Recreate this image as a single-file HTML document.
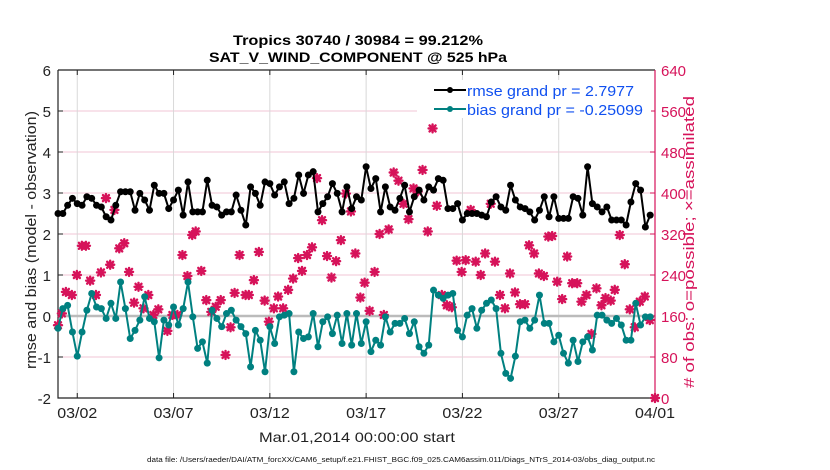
<!DOCTYPE html>
<html><head><meta charset="utf-8"><style>
html,body{margin:0;padding:0;background:#fff;}
svg{display:block;font-family:"Liberation Sans",sans-serif;}
</style></head><body>
<svg id="chart" width="830" height="470" viewBox="0 0 830 470">
<text x="358" y="45" text-anchor="middle" font-size="14" font-weight="bold" textLength="250" lengthAdjust="spacingAndGlyphs">Tropics 30740 / 30984 = 99.212%</text>
<text x="358" y="62" text-anchor="middle" font-size="14" font-weight="bold" textLength="298" lengthAdjust="spacingAndGlyphs">SAT_V_WIND_COMPONENT @ 525 hPa</text>
<g id="grid"></g>
<g id="axes"></g>
<g id="marks"></g>
<text transform="translate(36,240) rotate(-90)" text-anchor="middle" font-size="15" fill="#222" textLength="258" lengthAdjust="spacingAndGlyphs">rmse and bias (model - observation)</text>
<text transform="translate(694,242) rotate(-90)" text-anchor="middle" font-size="15" fill="#d6135a" textLength="292" lengthAdjust="spacingAndGlyphs"># of obs: o=possible; ×=assimilated</text>
<text x="357" y="442" text-anchor="middle" font-size="14" fill="#222" textLength="196" lengthAdjust="spacingAndGlyphs">Mar.01,2014 00:00:00 start</text>
<text x="401" y="462" text-anchor="middle" font-size="7" fill="#111" textLength="508" lengthAdjust="spacingAndGlyphs">data file: /Users/raeder/DAI/ATM_forcXX/CAM6_setup/f.e21.FHIST_BGC.f09_025.CAM6assim.011/Diags_NTrS_2014-03/obs_diag_output.nc</text>
<g>
<rect x="417" y="80" width="234" height="38" fill="#fff"/>
<g>
<line x1="434" y1="90" x2="466" y2="90" stroke="#000" stroke-width="2"/><circle cx="450" cy="90" r="3" fill="#000"/>
<text x="467" y="96" font-size="15" fill="#1050f0" textLength="167" lengthAdjust="spacingAndGlyphs">rmse grand pr = 2.7977</text></g>
<g>
<line x1="434" y1="109" x2="466" y2="109" stroke="#008080" stroke-width="2"/><circle cx="450" cy="109" r="3" fill="#008080"/>
<text x="467" y="115" font-size="15" fill="#1050f0" textLength="176" lengthAdjust="spacingAndGlyphs">bias grand pr = -0.25099</text></g>
</g>
</svg>
<script>
const rmse=[2.50,2.50,2.70,2.87,2.74,2.70,2.91,2.87,2.70,2.66,2.42,2.34,2.70,3.03,3.03,3.03,2.58,2.99,2.83,2.58,3.19,2.99,2.99,2.62,2.83,3.07,2.46,3.27,2.54,2.54,2.54,3.31,2.70,2.66,2.46,2.54,2.54,2.95,2.58,2.22,3.15,2.99,2.70,3.27,3.23,2.95,3.15,3.27,2.74,2.87,3.44,2.99,3.44,3.52,2.54,2.74,2.91,3.23,2.99,2.54,3.15,
2.62,2.91,2.83,3.64,3.11,3.35,2.54,3.15,2.66,2.58,2.87,3.19,2.54,2.91,3.07,2.83,3.15,3.07,3.35,3.31,2.62,2.62,2.74,2.34,2.50,2.50,2.50,2.46,2.42,2.78,2.91,2.66,2.58,3.19,2.83,2.66,2.62,2.54,2.34,2.58,2.91,2.42,2.91,2.38,2.38,2.38,2.91,2.87,2.46,3.64,2.74,2.66,2.54,2.66,2.34,2.34,2.34,2.22,2.78,3.23,3.07,2.17,2.46];
const bias=[-0.30,0.18,0.26,-0.39,-0.98,-0.39,0.14,0.55,0.22,0.18,-0.06,0.31,-0.06,0.83,0.18,-0.55,-0.35,-0.10,0.47,-0.06,-0.14,-1.02,-0.10,-0.22,0.22,-0.22,0.18,0.83,-0.02,-0.79,-0.63,-1.15,0.14,-0.06,-0.26,0.06,0.14,-0.10,-0.26,-0.43,-1.24,-0.35,-0.59,-1.36,-0.26,-0.67,-0.02,0.02,0.06,-1.36,-0.39,-0.55,-0.51,0.06,-0.75,-0.14,-0.02,-0.43,0.02,-0.67,0.06,
-0.71,0.06,-0.67,-0.14,-0.87,-0.59,-0.71,-0.02,-0.39,-0.18,-0.18,-0.06,-0.43,-0.14,-0.75,-0.91,-0.71,0.63,0.51,0.43,0.51,0.55,-0.35,-0.51,0.02,0.18,-0.30,0.14,0.31,0.39,0.18,-0.91,-1.40,-1.52,-0.98,-0.14,-0.10,-0.30,-0.10,0.51,-0.18,-0.18,-0.63,-0.47,-0.91,-1.15,-0.59,-1.11,-0.63,-0.51,-0.83,0.02,0.02,-0.10,-0.18,-0.06,-0.22,-0.59,-0.59,0.31,-0.22,-0.02,-0.02];
const countDays=[0,0.2,0.41,0.72,0.98,1.24,1.45,1.67,1.97,2.23,2.49,2.71,2.93,3.18,3.44,3.69,3.95,4.18,4.44,4.69,4.95,5.21,5.68,5.94,6.2,6.46,6.72,6.97,7.15,7.44,7.7,7.96,8.19,8.45,8.7,8.96,9.17,9.43,9.74,9.91,10.17,10.43,10.73,10.95,11.21,11.43,11.69,11.95,12.21,12.47,12.67,12.93,13.19,13.45,13.71,13.97,14.2,14.44,14.69,14.95,15.21,15.44,15.7,15.92,16.18,16.44,16.7,16.92,17.17,17.43,17.68,17.94,18.2,18.46,18.68,18.93,19.2,19.45,19.67,19.93,20.19,20.45,20.7,20.96,21.17,21.43,21.69,21.95,22.18,22.47,22.69,22.95,23.21,23.47,23.73,23.99,24.25,24.46,24.72,24.97,25.23,25.46,25.66,25.92,26.18,26.44,26.7,26.96,27.18,27.44,27.7,27.96,28.22,28.43,28.7,28.91,29.17,29.43,29.69,29.95,30.21,30.47,30.73,31];
const counts=[142,165,207,201,240,297,297,229,201,245,390,260,367,292,302,246,186,217,175,201,162,173,131,162,162,279,238,318,325,248,191,168,178,191,84,138,205,279,201,201,230,285,190,149,175,198,175,211,233,273,248,279,294,429,347,277,235,267,308,399,364,282,196,225,170,246,320,162,329,440,424,379,349,409,403,445,325,526,375,201,181,177,268,246,269,367,266,240,282,379,266,201,175,243,206,183,183,298,282,243,238,315,316,227,193,276,224,224,188,201,125,214,181,195,190,211,318,261,173,138,188,198,152,0];
const xTickDays=[1,6,11,16,21,26,31];
const xTickLabels=["03/02","03/07","03/12","03/17","03/22","03/27","04/01"];
const yTicks=[-2,-1,0,1,2,3,4,5,6];
const y2Ticks=[0,80,160,240,320,400,480,560,640];
const stepDays=0.25;

const L=58,R=655,T=70,B=398;
const X=d=>L+(d/31)*(R-L);
const Y=v=>B-((v+2)/8)*(B-T);
const Y2=c=>B-(c/640)*(B-T);
const NS='http://www.w3.org/2000/svg';
function mk(tag,parent,attrs){const e=document.createElementNS(NS,tag);for(const k in attrs)e.setAttribute(k,attrs[k]);parent.appendChild(e);return e;}
const grid=document.getElementById('grid'),axes=document.getElementById('axes'),marks=document.getElementById('marks');

yTicks.forEach(v=>{
  if(v!==-2&&v!==6){const g=mk('line',grid,{x1:L,x2:R,y1:Y(v),y2:Y(v),stroke:'#f2c6d6','stroke-width':1});
  
  }
  const t=mk('text',axes,{x:L-7,y:Y(v)+6,'text-anchor':'end','font-size':15,fill:'#222'});t.textContent=v;
  
  
  mk('line',axes,{x1:L,x2:L+5,y1:Y(v),y2:Y(v),stroke:'#222'});
});
y2Ticks.forEach(c=>{
  const t=mk('text',axes,{x:R+6,y:Y2(c)+6,'font-size':15,fill:'#d6135a'});t.textContent=c;
  
  
  mk('line',axes,{x1:R-5,x2:R,y1:Y2(c),y2:Y2(c),stroke:'#d6135a'});
});
xTickDays.forEach((d,i)=>{
  if(d<31){const g=mk('line',grid,{x1:X(d),x2:X(d),y1:T,y2:B,stroke:'#d8d8d8','stroke-width':1});
  
  }
  mk('line',axes,{x1:X(d),x2:X(d),y1:B,y2:B-5,stroke:'#222'});
  mk('line',axes,{x1:X(d),x2:X(d),y1:T,y2:T+5,stroke:'#222'});
  const t=mk('text',axes,{x:X(d),y:418,'text-anchor':'middle','font-size':15,fill:'#222',textLength:40,lengthAdjust:'spacingAndGlyphs'});t.textContent=xTickLabels[i];
  
  
});
mk('line',grid,{x1:L,x2:R,y1:Y(0),y2:Y(0),stroke:'#bbb','stroke-width':2.5});
mk('path',axes,{d:`M${L},${T}H${R}M${L},${T}V${B}H${R}`,stroke:'#222','stroke-width':1.2,fill:'none'});
mk('line',axes,{x1:R,x2:R,y1:T,y2:B,stroke:'#d6135a','stroke-width':1.2});

counts.forEach((c,i)=>{
  const cx=X(countDays[i]),cy=Y2(c);
  const g=mk('g',marks,{stroke:'#d6135a','stroke-width':2.4,'stroke-linecap':'round'});
  
  
  mk('line',g,{x1:cx-4,x2:cx+4,y1:cy,y2:cy});
  mk('line',g,{x1:cx,x2:cx,y1:cy-4,y2:cy+4});
  mk('line',g,{x1:cx-3,x2:cx+3,y1:cy-3,y2:cy+3});
  mk('line',g,{x1:cx-3,x2:cx+3,y1:cy+3,y2:cy-3});
});
function series(vals,color,name){
  const d=vals.map((v,i)=>(i?'L':'M')+X(i*stepDays).toFixed(1)+','+Y(v).toFixed(1)).join('');
  const p=mk('path',marks,{d:d,stroke:color,'stroke-width':2,fill:'none'});
  
  
  vals.forEach((v,i)=>{
    const c=mk('circle',marks,{cx:X(i*stepDays),cy:Y(v),r:3.5,fill:color});
    
    
  });
}
series(bias,'#008080','bias');
series(rmse,'#000','rmse');
</script>
</body></html>
